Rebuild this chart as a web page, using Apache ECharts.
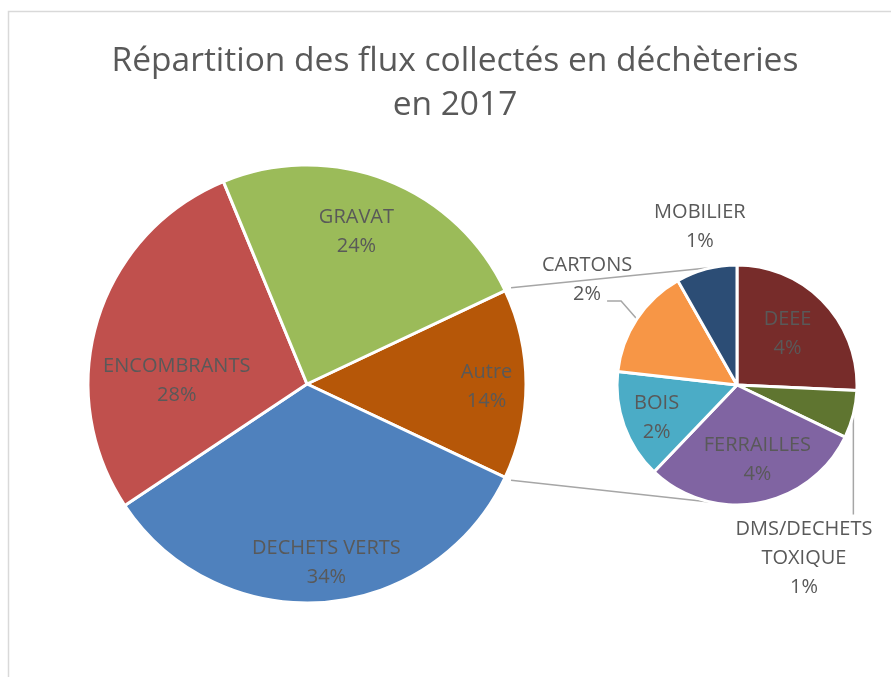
<!DOCTYPE html>
<html>
<head>
<meta charset="utf-8">
<title>Répartition des flux collectés en déchèteries en 2017</title>
<script src="https://cdn.jsdelivr.net/npm/echarts@6/dist/echarts.min.js"></script>
<style>
  html, body { margin: 0; padding: 0; background: #fff; }
  #chart { width: 891px; height: 677px; }
</style>
</head>
<body>
<div id="chart"></div>
<script>
// données : camembert principal
const mainNames = ['DECHETS VERTS', 'ENCOMBRANTS', 'GRAVAT'];
const mainValues = [33.6, 28.1, 24.2];
const otherName = 'Autre';

// détail de "Autre" (second camembert)
const subNames = ['DEEE', 'DMS/DECHETS\nTOXIQUE', 'FERRAILLES', 'BOIS', 'CARTONS', 'MOBILIER'];
const subValues = [3.6, 0.9, 4.2, 2.05, 2.1, 1.15];

const titleText = 'Répartition des flux collectés en déchèteries\nen 2017';

// couleurs façon Excel
const mainColors = ['#B65708', '#4F81BD', '#C0504D', '#9BBB59'];
const subColors = ['#772C2A', '#5F7530', '#8064A2', '#4BACC6', '#F79646', '#2C4D75'];

// mise en page
const MAIN = { cx: 307, cy: 384, r: 219 };
const SUB = { cx: 737, cy: 385, r: 120 };
const TEXT = '#595959';
const FONT = '"Open Sans", sans-serif';

// position des étiquettes : [angle (deg, sens trigo), fraction du rayon]
const mainSpots = [[-0.9, 0.82], [-83.8, 0.82], [178.5, 0.595], [72, 0.73]];
const subSpots = [[45.4, 0.6], [-68.9, 1.55], [-74.7, 0.645], [202.5, 0.725], [145, 1.525], [103.2, 1.355]];

const sum = a => a.reduce((s, v) => s + v, 0);
const otherValue = sum(subValues);
const grandTotal = sum(mainValues) + otherValue;
const pct = v => Math.round(v / grandTotal * 100) + '%';

const otherSweep = otherValue / grandTotal * 360;
const mainStart = otherSweep / 2;

function polar(pie, deg, ratio) {
  const a = deg * Math.PI / 180;
  return [pie.cx + Math.cos(a) * pie.r * ratio, pie.cy - Math.sin(a) * pie.r * ratio];
}

function placeLabels(pie, spots) {
  return function (p) {
    const [x, y] = polar(pie, spots[p.dataIndex][0], spots[p.dataIndex][1]);
    const res = { x: x, y: y, align: 'center', verticalAlign: 'middle' };
    const edge = p.labelLinePoints && p.labelLinePoints[0];
    if (pie === SUB && edge) {
      if (subNames[p.dataIndex] === 'CARTONS') {
        res.labelLinePoints = [[x + 20, y + 21], [x + 34, y + 21], edge];
      } else if (p.dataIndex === 1) {
        res.labelLinePoints = [edge, [edge[0], (edge[1] + y - 44) / 2], [edge[0], y - 44]];
      }
    }
    return res;
  };
}

const labelBase = {
  color: TEXT,
  fontFamily: FONT,
  fontSize: 20,
  lineHeight: 29,
  formatter: p => p.name + '\n' + pct(p.value)
};

const mainData = [{ name: otherName, value: otherValue }]
  .concat(mainNames.map((n, i) => ({ name: n, value: mainValues[i] })))
  .map((d, i) => Object.assign(d, { itemStyle: { color: mainColors[i] } }));

const outsideSub = ['DMS/DECHETS\nTOXIQUE', 'CARTONS', 'MOBILIER'];
const subData = subNames.map((n, i) => ({
  name: n,
  value: subValues[i],
  itemStyle: { color: subColors[i] },
  label: { position: outsideSub.includes(n) ? 'outside' : 'inside' },
  labelLine: { show: n !== 'MOBILIER' }
}));

// traits reliant les deux camemberts
const topFrom = polar(MAIN, mainStart, 1.03);
const botFrom = polar(MAIN, -mainStart, 1.03);
const connectorStyle = { stroke: '#A6A6A6', lineWidth: 1.5 };

const chart = echarts.init(document.getElementById('chart'));
chart.setOption({
  animation: false,
  backgroundColor: '#fff',
  title: {
    text: titleText,
    left: 450,
    top: 34,
    textAlign: 'center',
    textStyle: { color: TEXT, fontFamily: FONT, fontSize: 33.5, fontWeight: 'normal', lineHeight: 44 }
  },
  graphic: [
    { type: 'rect', z: 0, silent: true,
      shape: { x: 8.5, y: 11.5, width: 1200, height: 1200 },
      style: { fill: 'none', stroke: '#D9D9D9', lineWidth: 1.5 } },
    { type: 'line', z: 0, silent: true,
      shape: { x1: topFrom[0], y1: topFrom[1], x2: SUB.cx, y2: SUB.cy - SUB.r },
      style: connectorStyle },
    { type: 'line', z: 0, silent: true,
      shape: { x1: botFrom[0], y1: botFrom[1], x2: SUB.cx, y2: SUB.cy + SUB.r },
      style: connectorStyle }
  ],
  series: [
    {
      name: 'principal',
      type: 'pie',
      center: [MAIN.cx, MAIN.cy],
      radius: MAIN.r,
      startAngle: mainStart,
      clockwise: true,
      avoidLabelOverlap: false,
      silent: true,
      itemStyle: { borderColor: '#fff', borderWidth: 3 },
      label: Object.assign({ position: 'inside' }, labelBase),
      labelLine: { show: false },
      labelLayout: placeLabels(MAIN, mainSpots),
      data: mainData
    },
    {
      name: 'Autre',
      type: 'pie',
      center: [SUB.cx, SUB.cy],
      radius: SUB.r,
      startAngle: 90,
      clockwise: true,
      avoidLabelOverlap: false,
      silent: true,
      itemStyle: { borderColor: '#fff', borderWidth: 3 },
      label: labelBase,
      labelLine: { show: true, length: 10, length2: 10, lineStyle: { color: '#A6A6A6', width: 1.5 } },
      labelLayout: placeLabels(SUB, subSpots),
      data: subData
    }
  ]
});
</script>
</body>
</html>
